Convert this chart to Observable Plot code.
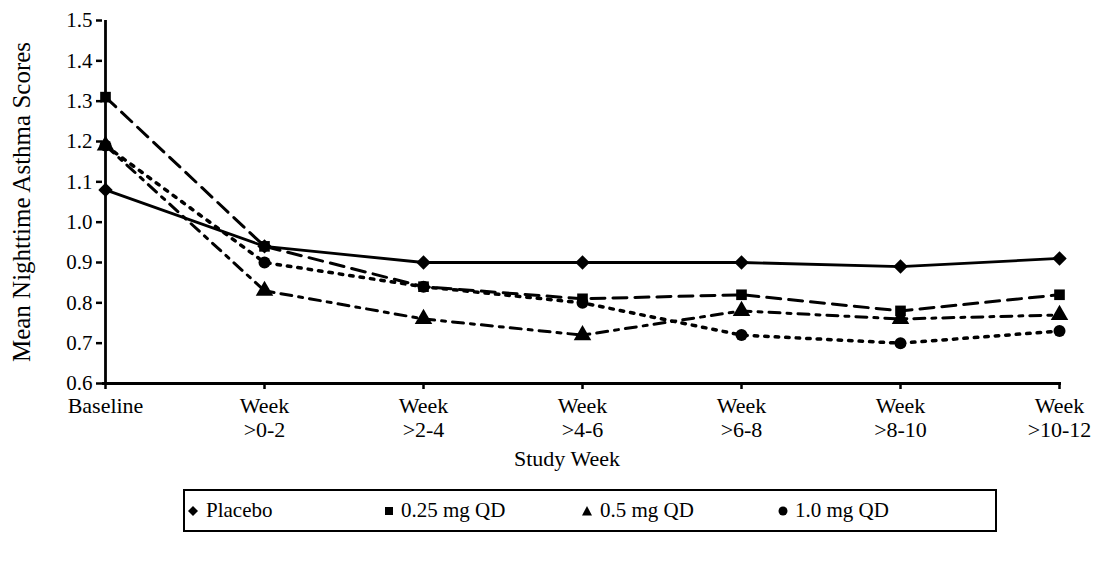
<!DOCTYPE html>
<html><head><meta charset="utf-8">
<script src="https://cdn.jsdelivr.net/npm/d3@7"></script>
<script src="https://cdn.jsdelivr.net/npm/@observablehq/plot@0.6"></script>
<style>
body{margin:0;background:#fff;font-family:"Liberation Serif","Times New Roman",serif;color:#000;}
#legend{margin-left:183px;margin-top:10px;width:810px;height:39px;border:2px solid #000;display:flex;align-items:center;font-size:21px;box-sizing:content-box;}
#legend .item{width:197px;display:flex;align-items:center;white-space:nowrap;}
#legend .item:first-child{margin-left:2px;}
#legend svg{margin-right:7px;}
</style></head><body>
<div id="chart"></div>
<div id="legend"></div>
<script>
const categories = ["Baseline", "Week >0-2", "Week >2-4", "Week >4-6", "Week >6-8", "Week >8-10", "Week >10-12"];
const seriesNames = ["Placebo", "0.25 mg QD", "0.5 mg QD", "1.0 mg QD"];
const placebo = [1.08, 0.94, 0.90, 0.90, 0.90, 0.89, 0.91];
const mg025   = [1.31, 0.94, 0.84, 0.81, 0.82, 0.78, 0.82];
const mg05    = [1.19, 0.83, 0.76, 0.72, 0.78, 0.76, 0.77];
const mg10    = [1.19, 0.90, 0.84, 0.80, 0.72, 0.70, 0.73];
const yTicks  = [0.6, 0.7, 0.8, 0.9, 1.0, 1.1, 1.2, 1.3, 1.4, 1.5];

const seriesValues = [placebo, mg025, mg05, mg10];
const data = [];
seriesNames.forEach((s, i) => categories.forEach((c, j) => data.push({series: s, week: c, value: seriesValues[i][j]})));

const styles = {
  "Placebo":    {dash: null,        symbol: "diamond2", r: 6.5, sw: 2.8},
  "0.25 mg QD": {dash: "14,8",      symbol: "square",   r: 6,   sw: 3},
  "0.5 mg QD":  {dash: "11,7,4,7",  symbol: "triangle", r: 6.5, sw: 3},
  "1.0 mg QD":  {dash: "3.5,7",     symbol: "circle",   r: 6,   sw: 3.5}
};
const drawOrder = ["Placebo", "0.5 mg QD", "1.0 mg QD", "0.25 mg QD"];

const lineMarks = drawOrder.map(s => Plot.line(data.filter(d => d.series === s), {
  x: "week", y: "value", stroke: "#000", strokeWidth: styles[s].sw,
  strokeDasharray: styles[s].dash || undefined
}));
const dotMarks = drawOrder.map(s => Plot.dot(data.filter(d => d.series === s), {
  x: "week", y: "value", fill: "#000", stroke: "none", symbol: () => styles[s].symbol, r: styles[s].r
}));

const plot = Plot.plot({
  width: 1108, height: 479,
  marginLeft: 102, marginRight: 47, marginTop: 20, marginBottom: 96,
  style: {fontFamily: "'Liberation Serif', 'Times New Roman', serif", fontSize: "22px", color: "#000", background: "#fff"},
  x: {type: "point", domain: categories, padding: 0, label: null},
  y: {domain: [0.6, 1.5], label: null},
  symbol: {domain: ["diamond2", "square", "triangle", "circle"], range: ["diamond2", "square", "triangle", "circle"]},
  marks: [
    Plot.axisY({ticks: yTicks, tickFormat: d3.format(".1f"), tickSize: 6, tickPadding: 4, strokeWidth: 2.5, label: null, fontSize: 21}),
    Plot.axisX({tickSize: 6, tickPadding: 6, strokeWidth: 2.5, tickFormat: d => d.replace(" ", "\n"), lineHeight: 1.1, label: null, fontSize: 22}),
    Plot.ruleX([categories[0]], {strokeWidth: 2.8}),
    Plot.ruleY([0.6], {strokeWidth: 2.8}),
    ...lineMarks,
    ...dotMarks,
    Plot.text(["Mean Nighttime Asthma Scores"], {frameAnchor: "left", textAnchor: "middle", rotate: -90, dx: -81, fontSize: 25, letterSpacing: 0.8}),
    Plot.text(["Study Week"], {frameAnchor: "bottom", dy: 82, dx: -15, fontSize: 22})
  ]
});
document.getElementById("chart").appendChild(plot);

const legendSymbols = {
  "Placebo": '<svg width="12" height="12" viewBox="-6 -6 12 12"><path d="M0,-5L5,0L0,5L-5,0Z" fill="#000"/></svg>',
  "0.25 mg QD": '<svg width="10" height="10" viewBox="-5 -5 10 10"><rect x="-4" y="-4" width="8" height="8" fill="#000"/></svg>',
  "0.5 mg QD": '<svg width="12" height="12" viewBox="-6 -6 12 12"><path d="M0,-5L5,4.5L-5,4.5Z" fill="#000"/></svg>',
  "1.0 mg QD": '<svg width="10" height="10" viewBox="-5 -5 10 10"><circle r="4.5" fill="#000"/></svg>'
};
const legend = document.getElementById("legend");
seriesNames.forEach(s => {
  const div = document.createElement("div");
  div.className = "item";
  div.innerHTML = legendSymbols[s] + "<span>" + s + "</span>";
  legend.appendChild(div);
});
</script>
</body></html>
